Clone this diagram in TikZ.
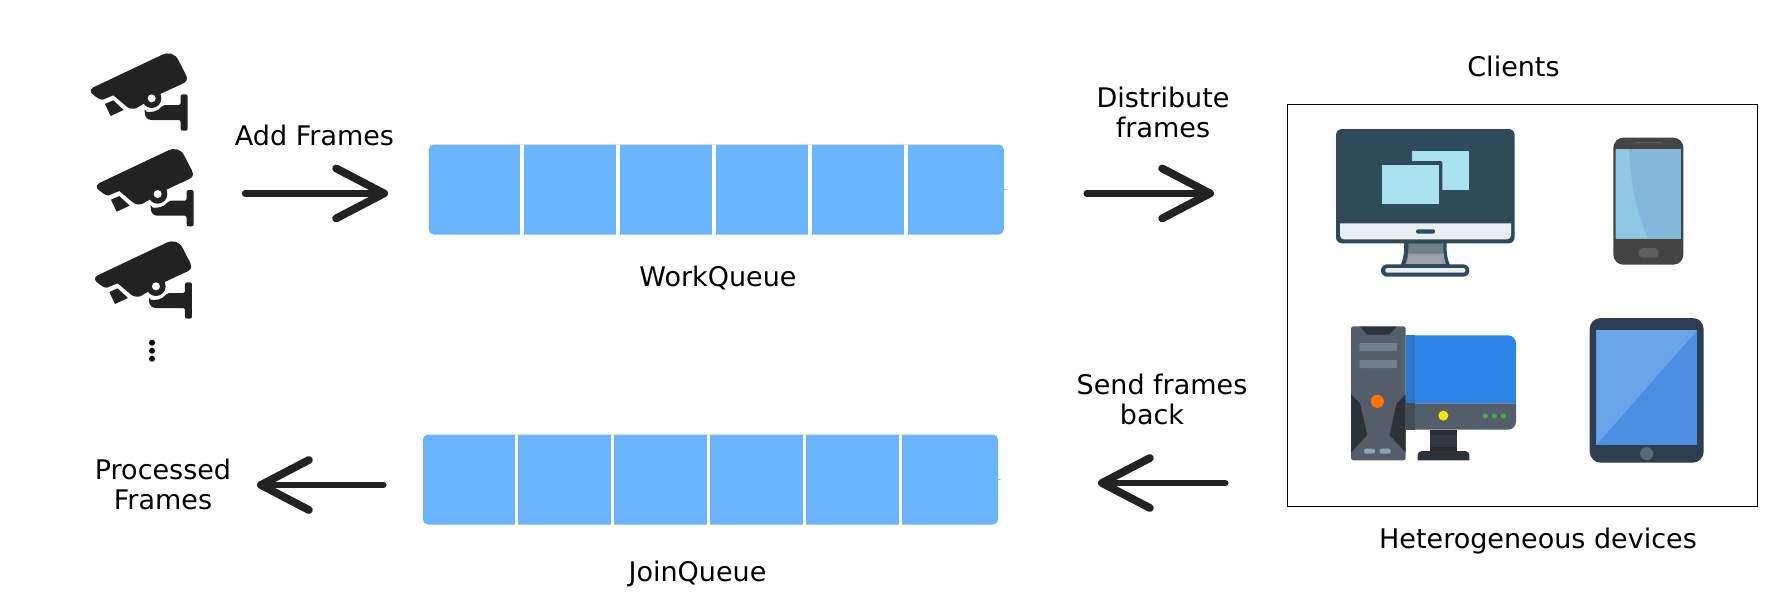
\documentclass[tikz,border=0pt]{standalone}
\usepackage{fontspec}
\setmainfont{DejaVu Sans}
\usetikzlibrary{arrows.meta}

\definecolor{barblue}{HTML}{69B3FF}
\definecolor{inkdark}{HTML}{222222}
\definecolor{teal}{HTML}{2F4B5A}
\definecolor{winblue}{HTML}{A9E2EF}
\definecolor{bezel}{HTML}{ECEFF1}
\definecolor{standup}{HTML}{6F8088}
\definecolor{standlo}{HTML}{9AA0A6}
\definecolor{phonebody}{HTML}{444444}
\definecolor{phonekey}{HTML}{5E5E5E}
\definecolor{phonescr}{HTML}{83B8DA}
\definecolor{phoneglare}{HTML}{8EC8E4}
\definecolor{towergrey}{HTML}{545E6B}
\definecolor{towerdark}{HTML}{2D3239}
\definecolor{drivebar}{HTML}{717F8E}
\definecolor{btnpill}{HTML}{8FA3B5}
\definecolor{scrblue}{HTML}{2C84E8}
\definecolor{scrstrip}{HTML}{2A79C9}
\definecolor{lowstrip}{HTML}{454D59}
\definecolor{neckgrey}{HTML}{33383F}
\definecolor{neckdark}{HTML}{282C30}
\definecolor{tabbody}{HTML}{2D3E50}
\definecolor{tabscr}{HTML}{4A8FE0}
\definecolor{tabglare}{HTML}{6BA4E8}
\definecolor{tabkey}{HTML}{56687A}

\tikzset{
  lbl/.style={font=\fontsize{13.5}{15}\selectfont, align=center, inner sep=0pt},
  queuebar/.style={fill=barblue, rounded corners=2.5pt, inner sep=0pt, minimum width=287.5pt, minimum height=45pt},
  queuegap/.style={white, line width=1.8pt},
  bigarrow/.style={inkdark, line width=3.1pt, line cap=round, -{Straight Barb[length=24pt, width=25pt, line width=3.9pt, round]}},
  icon/.style={x=0.16667pt, y=-0.16667pt},
  camera/.pic={
    \begin{scope}[icon]
    \fill[white] (275,295) circle (40);
    \fill[inkdark] (100,262) -- (305,165) .. controls (325,155) and (345,160) .. (355,180) -- (378,225) .. controls (385,240) and (378,245) .. (370,250) -- (305,280) -- (250,312) -- (228,325) .. controls (215,328) and (208,325) .. (203,322) -- (160,286) -- (128,299) .. controls (118,299) and (110,293) .. (95,280) .. controls (90,272) and (92,266) .. (100,262) -- cycle;
    \fill[inkdark] (135,312) -- (160,301) -- (191,330) -- (152,348) -- cycle;
    \fill[inkdark] (275,295) circle (29);
    \fill[white] (275,295) circle (12);
    \fill[inkdark, rounded corners=1pt] (254,334) .. controls (270,338) and (295,335) .. (308,315) -- (362,315) -- (362,283) -- (383,283) -- (383,392) -- (362,392) -- (362,360) -- (280,360) .. controls (262,360) and (255,350) .. (254,334) -- cycle;
    \end{scope}
  }
}

\begin{document}
\begin{tikzpicture}[x=0.5pt, y=-0.5pt]
\useasboundingbox (0,0) rectangle (1784,600);

% cameras
\pic at (60,0) {camera};
\pic at (66,95.7) {camera};
\pic at (64.3,188) {camera};
\foreach \y in {342.7,350.7,358.7} {
  \fill[black] (152,\y) circle (3);
}

% queues
\node[queuebar] (workQ) at (716.25,189.5) {};
\node[queuebar] (joinQ) at (710.5,479.5) {};
\foreach \x in {522,618,714,810,906} {
  \draw[queuegap] (\x,144.5) -- (\x,234.5);
  \draw[queuegap] (\x-5.7,434.5) -- (\x-5.7,524.5);
}
\draw[black!25, line width=0.5pt] (workQ.east) -- ++(3,0);
\draw[black!25, line width=0.5pt] (joinQ.east) -- ++(3,0);

\node[lbl] (addL) at (314.5,135.2) {Add Frames};
\node[lbl] (workL) at (718,278.2) {WorkQueue};
\node[lbl] (joinL) at (697.5,573.5) {JoinQueue};
\node[lbl] (distL) at (1163,112) {Distribute\\frames};
\node[lbl] (sendL) at (1162,399.7) {Send frames\\back\hspace*{10pt}};
\node[lbl] (procL) at (163,484.2) {Processed\\Frames};
\node[lbl] (clientsL) at (1513.5,66) {Clients};
\node[lbl] (hetL) at (1538,541) {Heterogeneous devices};

% arrows
\coordinate (A1) at (245,193.4);
\coordinate (A2) at (388,193.4);
\coordinate (B1) at (1086.6,193.4);
\coordinate (B2) at (1214,193.4);
\coordinate (C1) at (1225.4,483);
\coordinate (C2) at (1098,483);
\coordinate (D1) at (383.4,485);
\coordinate (D2) at (257,485);
\draw[bigarrow] (A1) -- (A2);
\draw[bigarrow] (B1) -- (B2);
\draw[bigarrow] (C1) -- (C2);
\draw[bigarrow] (D1) -- (D2);

\node[draw=black, line width=0.6pt, inner sep=0pt, minimum width=235.2pt, minimum height=201pt] (clients) at (1522.5,305.3) {};

% monitor and phone
\begin{scope}[shift={(1280,90)}, icon]
\fill[teal] (372,455) -- (500,455) .. controls (498,490) and (503,510) .. (512,530) -- (360,530) .. controls (369,510) and (374,490) .. (372,455) -- cycle;
\fill[standup] (385,460) .. controls (386,470) and (385,480) .. (384,490) -- (491,490) .. controls (490,480) and (489,470) .. (490,460) -- cycle;
\fill[standlo] (384,490) -- (491,490) .. controls (492,505) and (495,515) .. (498,522) -- (376,522) .. controls (380,515) and (383,505) .. (384,490) -- cycle;
\fill[teal, rounded corners=3pt] (168,117) rectangle (704,460);
\fill[bezel] (180,400) [rounded corners=2pt] -- (180,448) -- (693,448) [sharp corners] -- (693,400) -- cycle;
\fill[teal, rounded corners=1pt] (408,418) rectangle (465,431);
\fill[winblue] (397,182) rectangle (567,299);
\fill[teal, rounded corners=1pt] (295,213) rectangle (487,350);
\fill[winblue] (306,225) rectangle (476,341);
\fill[teal, rounded corners=3pt] (303,523) rectangle (568,560);
\fill[bezel, rounded corners=1pt] (316,534) rectangle (556,548);
\fill[phonebody, rounded corners=5pt] (1000,143) rectangle (1210,524);
\fill[phonekey] (1068,155) rectangle (1143,160);
\fill[phonescr] (1007,178) rectangle (1204,446);
\fill[phoneglare] (1007,178) -- (1047,178) .. controls (1052,280) and (1070,380) .. (1105,446) -- (1007,446) -- cycle;
\fill[phonekey, rounded corners=2pt] (1076,474) rectangle (1136,503);
\end{scope}

% desktop and tablet
\begin{scope}[shift={(1280,300)}, icon]
\fill[scrblue] (377,310) -- (377,106) [rounded corners=4pt] -- (708,106) [sharp corners] -- (708,310) -- cycle;
\fill[scrstrip] (377,106) rectangle (406,310);
\fill[towergrey] (377,310) -- (708,310) [rounded corners=4pt] -- (708,389) [sharp corners] -- (377,389) -- cycle;
\fill[lowstrip] (377,310) rectangle (406,389);
\fill[yellow!85!orange] (490,347) circle (15);
\foreach \x in {616,643,670} {
  \fill[green!60!black!75!white] (\x,348) circle (7.5);
}
\fill[neckgrey] (449,389) rectangle (532,453);
\fill[neckdark] (449,389) rectangle (532,405);
\fill[neckdark] (449,440) rectangle (532,453);
\fill[towerdark] (413,481) [rounded corners=2pt] -- (413,453) -- (568,453) [sharp corners] -- (568,481) -- cycle;
\fill[towergrey, rounded corners=1.2pt] (213,79) rectangle (377,481);
\fill[towerdark] (240,80) -- (350,80) -- (328,104) -- (262,104) -- cycle;
\fill[drivebar, rounded corners=0.5pt] (239,129) rectangle (351,153);
\fill[drivebar, rounded corners=0.5pt] (239,180) rectangle (351,204);
\fill[orange!90!red] (292,304) circle (19.5);
\fill[towerdark] (213,283) -- (240,310) -- (262,405) -- (213,458) -- cycle;
\fill[towerdark] (377,283) -- (350,310) -- (328,405) -- (377,458) -- cycle;
\foreach \x in {252,299} {
  \fill[btnpill, rounded corners=1pt] (\x,446) rectangle (\x+33,461);
}
\fill[tabbody, rounded corners=5.5pt] (929,54) rectangle (1271,488);
\fill[tabscr] (949,90) rectangle (1252,435);
\fill[tabglare] (949,90) -- (1252,90) -- (949,435) -- cycle;
\fill[tabkey] (1100,461) circle (19.5);
\end{scope}
\end{tikzpicture}
\end{document}
